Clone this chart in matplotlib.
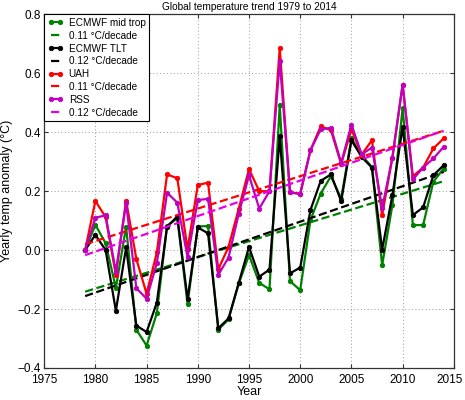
import matplotlib
matplotlib.use('Agg')
import matplotlib.pyplot as plt
from matplotlib.transforms import ScaledTranslation

plt.rcParams['font.family'] = ['Liberation Sans', 'DejaVu Sans']

years = list(range(1979, 2015))

# yearly anomalies
ecmwf_mid = [0.0, 0.086, 0.023, -0.128, 0.08, -0.27, -0.324, -0.214, 0.082, 0.108,
             -0.182, 0.08, 0.082, -0.27, -0.235, -0.113, -0.017, -0.111, -0.133, 0.492,
             -0.105, -0.136, 0.102, 0.192, 0.251, 0.175, 0.379, 0.322, 0.282, -0.051,
             0.153, 0.482, 0.085, 0.085, 0.232, 0.277]
ecmwf_tlt = [0.0, 0.052, 0.0, -0.206, 0.009, -0.256, -0.278, -0.178, 0.08, 0.114,
             -0.166, 0.077, 0.057, -0.265, -0.232, -0.111, 0.011, -0.09, -0.066, 0.386,
             -0.079, -0.059, 0.136, 0.235, 0.257, 0.166, 0.373, 0.316, 0.28, 0.002,
             0.186, 0.418, 0.119, 0.145, 0.254, 0.288]
uah = [0.0, 0.167, 0.112, -0.084, 0.168, -0.03, -0.148, -0.008, 0.257, 0.244,
       0.003, 0.221, 0.229, -0.065, 0.011, 0.141, 0.275, 0.2, 0.2, 0.686,
       0.196, 0.192, 0.339, 0.42, 0.407, 0.292, 0.41, 0.324, 0.373, 0.119,
       0.314, 0.562, 0.251, 0.28, 0.345, 0.379]
rss = [0.0, 0.11, 0.118, -0.073, 0.16, -0.129, -0.165, -0.044, 0.195, 0.161,
       -0.024, 0.17, 0.174, -0.084, -0.025, 0.124, 0.254, 0.141, 0.2, 0.642,
       0.196, 0.19, 0.339, 0.41, 0.415, 0.296, 0.426, 0.325, 0.348, 0.143,
       0.314, 0.562, 0.24, 0.28, 0.311, 0.35]

# trend line end values (1979, 2014)
trend_years = [1979, 2014]
trend_mid = [-0.141, 0.234]
trend_tlt = [-0.156, 0.265]
trend_uah = [0.02, 0.405]
trend_rss = [-0.017, 0.405]

series = [
    ('ECMWF mid trop', ecmwf_mid, trend_mid, '0.11 °C/decade', '#008000', '#008000'),
    ('ECMWF TLT', ecmwf_tlt, trend_tlt, '0.12 °C/decade', '#000000', '#000000'),
    ('UAH', uah, trend_uah, '0.11 °C/decade', '#ff0000', '#ff0000'),
    ('RSS', rss, trend_rss, '0.12 °C/decade', '#bf00bf', '#e600e6'),
]

fig = plt.figure(figsize=(4.65, 4.0), dpi=100)
ax = fig.add_axes([0.095, 0.08, 0.881, 0.884])

for name, vals, trend, tlabel, col, tcol in series:
    ax.plot(years, vals, '-o', color=col, lw=1.6, markersize=3.2,
            markeredgecolor=col, markeredgewidth=0.6, label=name)
    ax.plot(trend_years, trend, '--', color=tcol, lw=1.6, label=tlabel)

ax.set_xlim(1975, 2015)
ax.set_ylim(-0.4, 0.8)
ax.set_xticks(range(1975, 2016, 5))
ax.set_yticks([-0.4, -0.2, 0.0, 0.2, 0.4, 0.6, 0.8])
ax.set_yticklabels(['\u22120.4', '\u22120.2', '0.0', '0.2', '0.4', '0.6', '0.8'])
ax.tick_params(direction='in', top=True, right=True, labelsize=8.5, length=3,
               width=0.8, colors='#333333', labelcolor='black')
ax.tick_params(axis='y', pad=2.5)
ax.tick_params(axis='x', pad=4)
ax.grid(True, linestyle=(0, (1, 2.5)), color='#999999', lw=0.7)
for s in ax.spines.values():
    s.set_color('#333333')
    s.set_linewidth(0.9)

# nudge the last year label so it stays inside the figure, as in the original
last = ax.xaxis.get_major_ticks()[-1].label1
last.set_transform(last.get_transform() + ScaledTranslation(-3 / 72, 0, fig.dpi_scale_trans))

ax.set_title('Global temperature trend 1979 to 2014', fontsize=7.3, pad=3)
ax.set_xlabel('Year', fontsize=9, labelpad=0)
ax.set_ylabel('Yearly temp anomaly (°C)', fontsize=9, labelpad=3)

leg = ax.legend(loc='upper left', fontsize=7.2, borderaxespad=0, fancybox=False,
                framealpha=1, edgecolor='black', handlelength=1.5, handletextpad=0.6,
                labelspacing=0.28, borderpad=0.35, numpoints=2)
leg.get_frame().set_linewidth(0.8)

fig.savefig('out.png', dpi=100)
